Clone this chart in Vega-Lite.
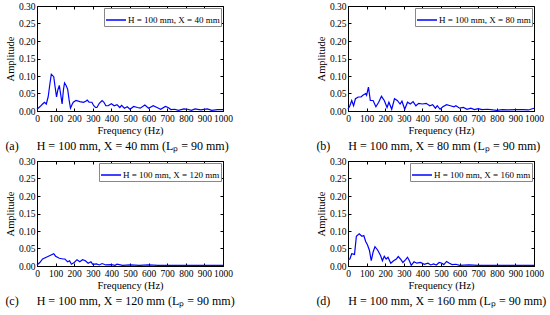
{
  "$schema": "https://vega.github.io/schema/vega-lite/v6.json",
  "padding": {"left": 4, "top": 0, "right": 2, "bottom": 2},
  "background": "white",
  "datasets": {
    "a": [
      {"f":0,"a":0.005},{"f":15,"a":0.012},{"f":30,"a":0.02},{"f":40,"a":0.025},{"f":50,"a":0.02},{"f":60,"a":0.04},{"f":70,"a":0.08},{"f":77,"a":0.105},{"f":90,"a":0.098},{"f":97,"a":0.07},{"f":105,"a":0.04},{"f":112,"a":0.06},{"f":120,"a":0.073},{"f":128,"a":0.045},{"f":135,"a":0.02},{"f":142,"a":0.06},{"f":148,"a":0.08},{"f":157,"a":0.072},{"f":165,"a":0.062},{"f":173,"a":0.03},{"f":180,"a":0.008},{"f":188,"a":0.018},{"f":195,"a":0.025},{"f":210,"a":0.03},{"f":230,"a":0.027},{"f":250,"a":0.025},{"f":262,"a":0.028},{"f":270,"a":0.031},{"f":280,"a":0.025},{"f":295,"a":0.025},{"f":305,"a":0.015},{"f":315,"a":0.01},{"f":322,"a":0.01},{"f":335,"a":0.022},{"f":350,"a":0.03},{"f":360,"a":0.025},{"f":370,"a":0.015},{"f":382,"a":0.015},{"f":400,"a":0.021},{"f":415,"a":0.015},{"f":430,"a":0.018},{"f":445,"a":0.01},{"f":455,"a":0.016},{"f":470,"a":0.008},{"f":485,"a":0.012},{"f":500,"a":0.005},{"f":520,"a":0.013},{"f":540,"a":0.01},{"f":555,"a":0.008},{"f":580,"a":0.017},{"f":600,"a":0.008},{"f":625,"a":0.015},{"f":645,"a":0.01},{"f":665,"a":0.005},{"f":690,"a":0.013},{"f":705,"a":0.01},{"f":720,"a":0.004},{"f":740,"a":0.005},{"f":760,"a":0.002},{"f":790,"a":0.006},{"f":810,"a":0.005},{"f":830,"a":0.002},{"f":850,"a":0.006},{"f":880,"a":0.003},{"f":915,"a":0.006},{"f":940,"a":0.002},{"f":970,"a":0.004},{"f":1000,"a":0.004}
    ],
    "b": [
      {"f":0,"a":0.005},{"f":10,"a":0.015},{"f":20,"a":0.03},{"f":30,"a":0.015},{"f":40,"a":0.035},{"f":55,"a":0.04},{"f":70,"a":0.04},{"f":80,"a":0.045},{"f":95,"a":0.05},{"f":100,"a":0.045},{"f":110,"a":0.068},{"f":120,"a":0.03},{"f":135,"a":0.03},{"f":150,"a":0.012},{"f":165,"a":0.025},{"f":180,"a":0.042},{"f":195,"a":0.03},{"f":210,"a":0.01},{"f":220,"a":0.025},{"f":235,"a":0.005},{"f":250,"a":0.035},{"f":265,"a":0.03},{"f":280,"a":0.02},{"f":290,"a":0.028},{"f":305,"a":0.005},{"f":320,"a":0.025},{"f":335,"a":0.02},{"f":350,"a":0.027},{"f":365,"a":0.015},{"f":380,"a":0.022},{"f":400,"a":0.02},{"f":420,"a":0.022},{"f":440,"a":0.015},{"f":455,"a":0.018},{"f":470,"a":0.008},{"f":480,"a":0.015},{"f":495,"a":0.005},{"f":510,"a":0.012},{"f":530,"a":0.018},{"f":550,"a":0.015},{"f":570,"a":0.012},{"f":580,"a":0.015},{"f":600,"a":0.008},{"f":620,"a":0.01},{"f":640,"a":0.005},{"f":660,"a":0.008},{"f":680,"a":0.004},{"f":700,"a":0.007},{"f":720,"a":0.004},{"f":750,"a":0.005},{"f":780,"a":0.003},{"f":800,"a":0.002},{"f":830,"a":0.004},{"f":860,"a":0.003},{"f":900,"a":0.004},{"f":940,"a":0.004},{"f":970,"a":0.003},{"f":1000,"a":0.008}
    ],
    "c": [
      {"f":0,"a":0.003},{"f":15,"a":0.01},{"f":30,"a":0.02},{"f":50,"a":0.025},{"f":70,"a":0.03},{"f":90,"a":0.035},{"f":100,"a":0.028},{"f":120,"a":0.022},{"f":140,"a":0.02},{"f":150,"a":0.02},{"f":165,"a":0.012},{"f":175,"a":0.015},{"f":185,"a":0.005},{"f":200,"a":0.01},{"f":215,"a":0.018},{"f":230,"a":0.012},{"f":245,"a":0.018},{"f":260,"a":0.015},{"f":275,"a":0.008},{"f":290,"a":0.012},{"f":300,"a":0.005},{"f":320,"a":0.006},{"f":335,"a":0.003},{"f":350,"a":0.007},{"f":370,"a":0.003},{"f":400,"a":0.004},{"f":420,"a":0.002},{"f":430,"a":0.005},{"f":460,"a":0.002},{"f":500,"a":0.003},{"f":550,"a":0.002},{"f":600,"a":0.003},{"f":650,"a":0.002},{"f":700,"a":0.002},{"f":800,"a":0.002},{"f":900,"a":0.002},{"f":1000,"a":0.002}
    ],
    "d": [
      {"f":0,"a":0.018},{"f":10,"a":0.02},{"f":20,"a":0.035},{"f":35,"a":0.033},{"f":45,"a":0.085},{"f":60,"a":0.092},{"f":75,"a":0.085},{"f":85,"a":0.087},{"f":95,"a":0.07},{"f":105,"a":0.06},{"f":115,"a":0.045},{"f":125,"a":0.015},{"f":135,"a":0.04},{"f":145,"a":0.055},{"f":160,"a":0.045},{"f":175,"a":0.03},{"f":185,"a":0.015},{"f":195,"a":0.028},{"f":205,"a":0.02},{"f":215,"a":0.025},{"f":230,"a":0.008},{"f":245,"a":0.015},{"f":260,"a":0.02},{"f":270,"a":0.027},{"f":285,"a":0.018},{"f":295,"a":0.01},{"f":310,"a":0.018},{"f":320,"a":0.025},{"f":330,"a":0.015},{"f":340,"a":0.002},{"f":355,"a":0.012},{"f":370,"a":0.008},{"f":390,"a":0.01},{"f":410,"a":0.005},{"f":430,"a":0.008},{"f":445,"a":0.003},{"f":460,"a":0.006},{"f":475,"a":0.003},{"f":490,"a":0.01},{"f":505,"a":0.008},{"f":515,"a":0.004},{"f":530,"a":0.013},{"f":545,"a":0.008},{"f":560,"a":0.004},{"f":580,"a":0.005},{"f":600,"a":0.002},{"f":650,"a":0.003},{"f":700,"a":0.002},{"f":800,"a":0.002},{"f":900,"a":0.002},{"f":1000,"a":0.002}
    ]
  },
  "columns": 2,
  "bounds": "flush",
  "spacing": {"row": 50, "column": 125},
  "resolve": {"scale": {"color": "independent"}},
  "concat": [
    {
      "width": 186, "height": 105,
      "data": {"name": "a"},
      "layer": [
        {
          "mark": {"type": "line", "strokeWidth": 1.2},
          "encoding": {
            "x": {"field": "f", "type": "quantitative", "title": "Frequency (Hz)", "scale": {"domain": [0, 1000]}, "axis": {"values": [0,100,200,300,400,500,600,700,800,900,1000], "format": "d"}},
            "y": {"field": "a", "type": "quantitative", "title": "Amplitude", "scale": {"domain": [0, 0.3]}, "axis": {"values": [0,0.05,0.1,0.15,0.2,0.25,0.3], "format": ".2f"}},
            "color": {"datum": "H = 100 mm, X = 40 mm", "scale": {"range": ["#0000ff"]}}
          }
        },
        {
          "mark": {"type": "line", "strokeOpacity": 0},
          "encoding": {
            "x": {"field": "f", "type": "quantitative", "axis": {"orient": "top", "labels": false, "title": null, "domain": false, "values": [0,100,200,300,400,500,600,700,800,900,1000]}},
            "y": {"field": "a", "type": "quantitative", "axis": {"orient": "right", "labels": false, "title": null, "domain": false, "values": [0,0.05,0.1,0.15,0.2,0.25,0.3]}}
          }
        }
      ],
      "resolve": {"axis": {"x": "independent", "y": "independent"}},
      "title": {"text": "(a)\u00a0\u00a0\u00a0\u00a0\u00a0\u00a0H = 100 mm, X = 40 mm (L\u209a = 90 mm)"}
    },
    {
      "width": 186, "height": 105,
      "data": {"name": "b"},
      "layer": [
        {
          "mark": {"type": "line", "strokeWidth": 1.2},
          "encoding": {
            "x": {"field": "f", "type": "quantitative", "title": "Frequency (Hz)", "scale": {"domain": [0, 1000]}, "axis": {"values": [0,100,200,300,400,500,600,700,800,900,1000], "format": "d"}},
            "y": {"field": "a", "type": "quantitative", "title": "Amplitude", "scale": {"domain": [0, 0.3]}, "axis": {"values": [0,0.05,0.1,0.15,0.2,0.25,0.3], "format": ".2f"}},
            "color": {"datum": "H = 100 mm, X = 80 mm", "scale": {"range": ["#0000ff"]}}
          }
        },
        {
          "mark": {"type": "line", "strokeOpacity": 0},
          "encoding": {
            "x": {"field": "f", "type": "quantitative", "axis": {"orient": "top", "labels": false, "title": null, "domain": false, "values": [0,100,200,300,400,500,600,700,800,900,1000]}},
            "y": {"field": "a", "type": "quantitative", "axis": {"orient": "right", "labels": false, "title": null, "domain": false, "values": [0,0.05,0.1,0.15,0.2,0.25,0.3]}}
          }
        }
      ],
      "resolve": {"axis": {"x": "independent", "y": "independent"}},
      "title": {"text": "(b)\u00a0\u00a0\u00a0\u00a0\u00a0\u00a0H = 100 mm, X = 80 mm (L\u209a = 90 mm)"}
    },
    {
      "width": 186, "height": 105,
      "data": {"name": "c"},
      "layer": [
        {
          "mark": {"type": "line", "strokeWidth": 1.2},
          "encoding": {
            "x": {"field": "f", "type": "quantitative", "title": "Frequency (Hz)", "scale": {"domain": [0, 1000]}, "axis": {"values": [0,100,200,300,400,500,600,700,800,900,1000], "format": "d"}},
            "y": {"field": "a", "type": "quantitative", "title": "Amplitude", "scale": {"domain": [0, 0.3]}, "axis": {"values": [0,0.05,0.1,0.15,0.2,0.25,0.3], "format": ".2f"}},
            "color": {"datum": "H = 100 mm, X = 120 mm", "scale": {"range": ["#0000ff"]}}
          }
        },
        {
          "mark": {"type": "line", "strokeOpacity": 0},
          "encoding": {
            "x": {"field": "f", "type": "quantitative", "axis": {"orient": "top", "labels": false, "title": null, "domain": false, "values": [0,100,200,300,400,500,600,700,800,900,1000]}},
            "y": {"field": "a", "type": "quantitative", "axis": {"orient": "right", "labels": false, "title": null, "domain": false, "values": [0,0.05,0.1,0.15,0.2,0.25,0.3]}}
          }
        }
      ],
      "resolve": {"axis": {"x": "independent", "y": "independent"}},
      "title": {"text": "(c)\u00a0\u00a0\u00a0\u00a0\u00a0\u00a0H = 100 mm, X = 120 mm (L\u209a = 90 mm)"}
    },
    {
      "width": 186, "height": 105,
      "data": {"name": "d"},
      "layer": [
        {
          "mark": {"type": "line", "strokeWidth": 1.2},
          "encoding": {
            "x": {"field": "f", "type": "quantitative", "title": "Frequency (Hz)", "scale": {"domain": [0, 1000]}, "axis": {"values": [0,100,200,300,400,500,600,700,800,900,1000], "format": "d"}},
            "y": {"field": "a", "type": "quantitative", "title": "Amplitude", "scale": {"domain": [0, 0.3]}, "axis": {"values": [0,0.05,0.1,0.15,0.2,0.25,0.3], "format": ".2f"}},
            "color": {"datum": "H = 100 mm, X = 160 mm", "scale": {"range": ["#0000ff"]}}
          }
        },
        {
          "mark": {"type": "line", "strokeOpacity": 0},
          "encoding": {
            "x": {"field": "f", "type": "quantitative", "axis": {"orient": "top", "labels": false, "title": null, "domain": false, "values": [0,100,200,300,400,500,600,700,800,900,1000]}},
            "y": {"field": "a", "type": "quantitative", "axis": {"orient": "right", "labels": false, "title": null, "domain": false, "values": [0,0.05,0.1,0.15,0.2,0.25,0.3]}}
          }
        }
      ],
      "resolve": {"axis": {"x": "independent", "y": "independent"}},
      "title": {"text": "(d)\u00a0\u00a0\u00a0\u00a0\u00a0\u00a0H = 100 mm, X = 160 mm (L\u209a = 90 mm)"}
    }
  ],
  "config": {
    "font": "Liberation Serif",
    "view": {"stroke": "#000000", "strokeWidth": 1},
    "axis": {
      "labelFont": "Liberation Serif", "labelFontSize": 9.5, "labelColor": "#000000",
      "titleFont": "Liberation Serif", "titleFontSize": 10.5, "titleFontWeight": "normal", "titleColor": "#000000",
      "domainColor": "#000000", "tickColor": "#000000", "tickSize": -3, "labelPadding": 5,
      "grid": false, "labelFlush": false, "labelOverlap": false
    },
    "axisX": {"titlePadding": 3},
    "axisY": {"titlePadding": 3},
    "legend": {
      "orient": "top-right", "offset": 2, "title": null,
      "labelFont": "Liberation Serif", "labelFontSize": 9, "labelColor": "#000000",
      "symbolType": "stroke", "symbolSize": 400, "symbolStrokeWidth": 1.5,
      "strokeColor": "#888888", "fillColor": "#ffffff", "padding": 1, "labelOffset": 1
    },
    "title": {
      "orient": "bottom", "anchor": "start", "frame": "bounds",
      "font": "Liberation Serif", "fontSize": 12, "fontWeight": "normal", "color": "#000000", "offset": 5
    }
  }
}
